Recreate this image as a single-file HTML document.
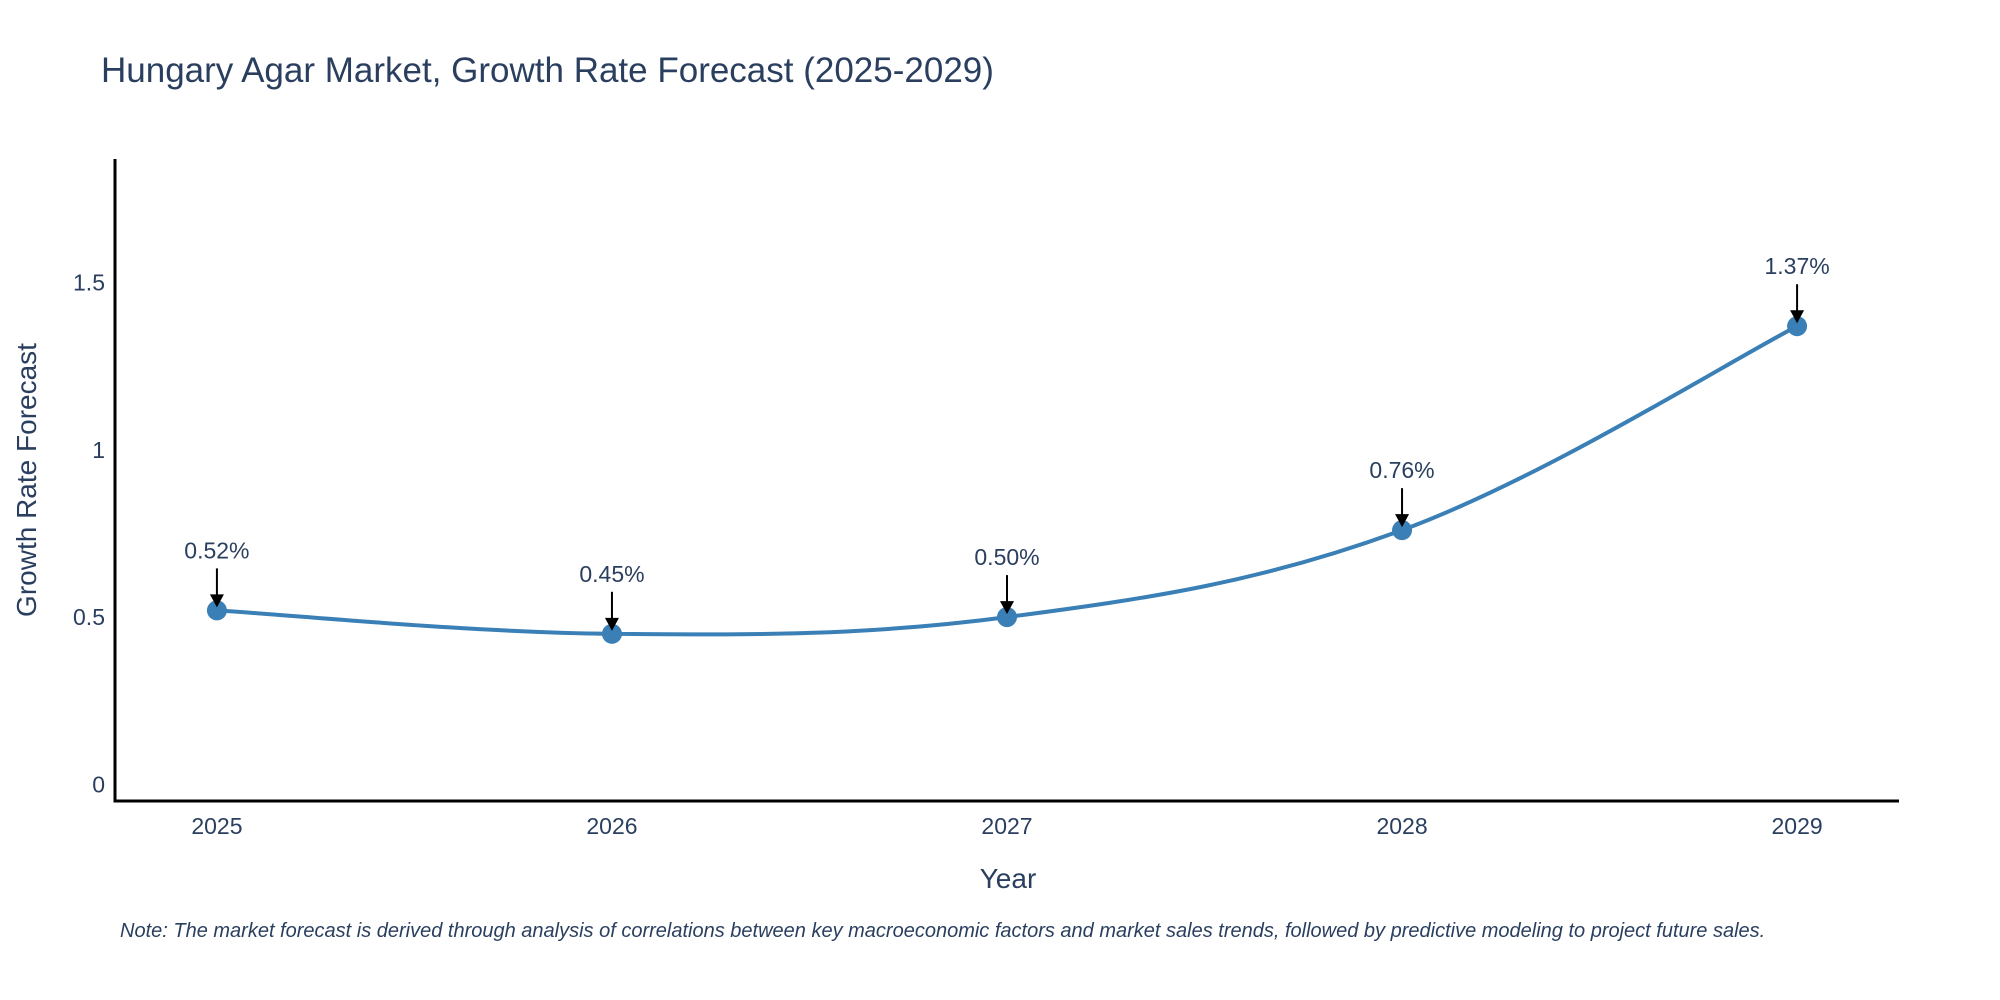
<!DOCTYPE html>
<html><head><meta charset="utf-8"><style>
body{margin:0;background:#fff}
svg{display:block}
text{font-family:"Liberation Sans",sans-serif}
</style></head><body>
<svg id="chart" width="2000" height="1000">
<text x="101" y="82" font-size="35" fill="#2a3f5f">Hungary Agar Market, Growth Rate Forecast (2025-2029)</text>
<g id="plot"></g>
<text x="1008" y="888" font-size="28" fill="#2a3f5f" text-anchor="middle">Year</text>
<text transform="translate(36,480) rotate(-90)" font-size="28" fill="#2a3f5f" text-anchor="middle">Growth Rate Forecast</text>
<text x="120" y="937" font-size="20" font-style="italic" fill="#2a3f5f">Note: The market forecast is derived through analysis of correlations between key macroeconomic factors and market sales trends, followed by predictive modeling to project future sales.</text>
</svg>
<script>
const years = [2025, 2026, 2027, 2028, 2029];
const values = [0.52, 0.45, 0.50, 0.76, 1.37];
const labels = ["0.52%", "0.45%", "0.50%", "0.76%", "1.37%"];
const yTicks = [0, 0.5, 1, 1.5];
const yTickLabels = ["0", "0.5", "1", "1.5"];

const NS = "http://www.w3.org/2000/svg";
const g = document.getElementById("plot");
const L = 115, R = 1899, T = 159, B = 801;
const xMin = 2024.742, xMax = 2029.258, yMin = -0.05, yMax = 1.87;
const xs = v => L + (v - xMin) / (xMax - xMin) * (R - L);
const ys = v => B - (v - yMin) / (yMax - yMin) * (B - T);
function mk(tag, attrs) { const e = document.createElementNS(NS, tag); for (const k in attrs) e.setAttribute(k, attrs[k]); g.appendChild(e); return e; }

yTicks.forEach((t, i) => {
  const e = mk("text", {x: L - 10, y: ys(t) + 8, "font-size": 23, fill: "#2a3f5f", "text-anchor": "end"});
  e.textContent = yTickLabels[i];
  
  
});
years.forEach(yr => {
  const e = mk("text", {x: xs(yr), y: 834, "font-size": 23, fill: "#2a3f5f", "text-anchor": "middle"});
  e.textContent = String(yr);
  
  
});
const ax = mk("path", {d: `M${L},${T} L${L},${B} L${R},${B}`, stroke: "#000", "stroke-width": 3, fill: "none"});



const pts = years.map((y, i) => [xs(y), ys(values[i])]);
let d = `M${pts[0][0]},${pts[0][1]}`;
const s = 0.18;
for (let i = 0; i < pts.length - 1; i++) {
  const p0 = pts[Math.max(0, i - 1)], p1 = pts[i], p2 = pts[i + 1], p3 = pts[Math.min(pts.length - 1, i + 2)];
  const c1 = [p1[0] + (p2[0] - p0[0]) * s, p1[1] + (p2[1] - p0[1]) * s];
  const c2 = [p2[0] - (p3[0] - p1[0]) * s, p2[1] - (p3[1] - p1[1]) * s];
  d += ` C${c1[0]},${c1[1]} ${c2[0]},${c2[1]} ${p2[0]},${p2[1]}`;
}
const line = mk("path", {d, stroke: "#3a7fb5", "stroke-width": 4, fill: "none"});



pts.forEach((p, i) => {
  const c = mk("circle", {cx: p[0], cy: p[1], r: 10, fill: "#3a7fb5"});
  
  
  const a = mk("line", {x1: p[0], y1: p[1] - 42, x2: p[0], y2: p[1] - 14, stroke: "#000", "stroke-width": 2});
  
  
  const h = mk("polygon", {points: `${p[0]-7},${p[1]-16} ${p[0]+7},${p[1]-16} ${p[0]},${p[1]-3}`, fill: "#000"});
  
  
  const t = mk("text", {x: p[0], y: p[1] - 52, "font-size": 23, fill: "#2a3f5f", "text-anchor": "middle"});
  t.textContent = labels[i];
  
  
});
</script>
</body></html>
